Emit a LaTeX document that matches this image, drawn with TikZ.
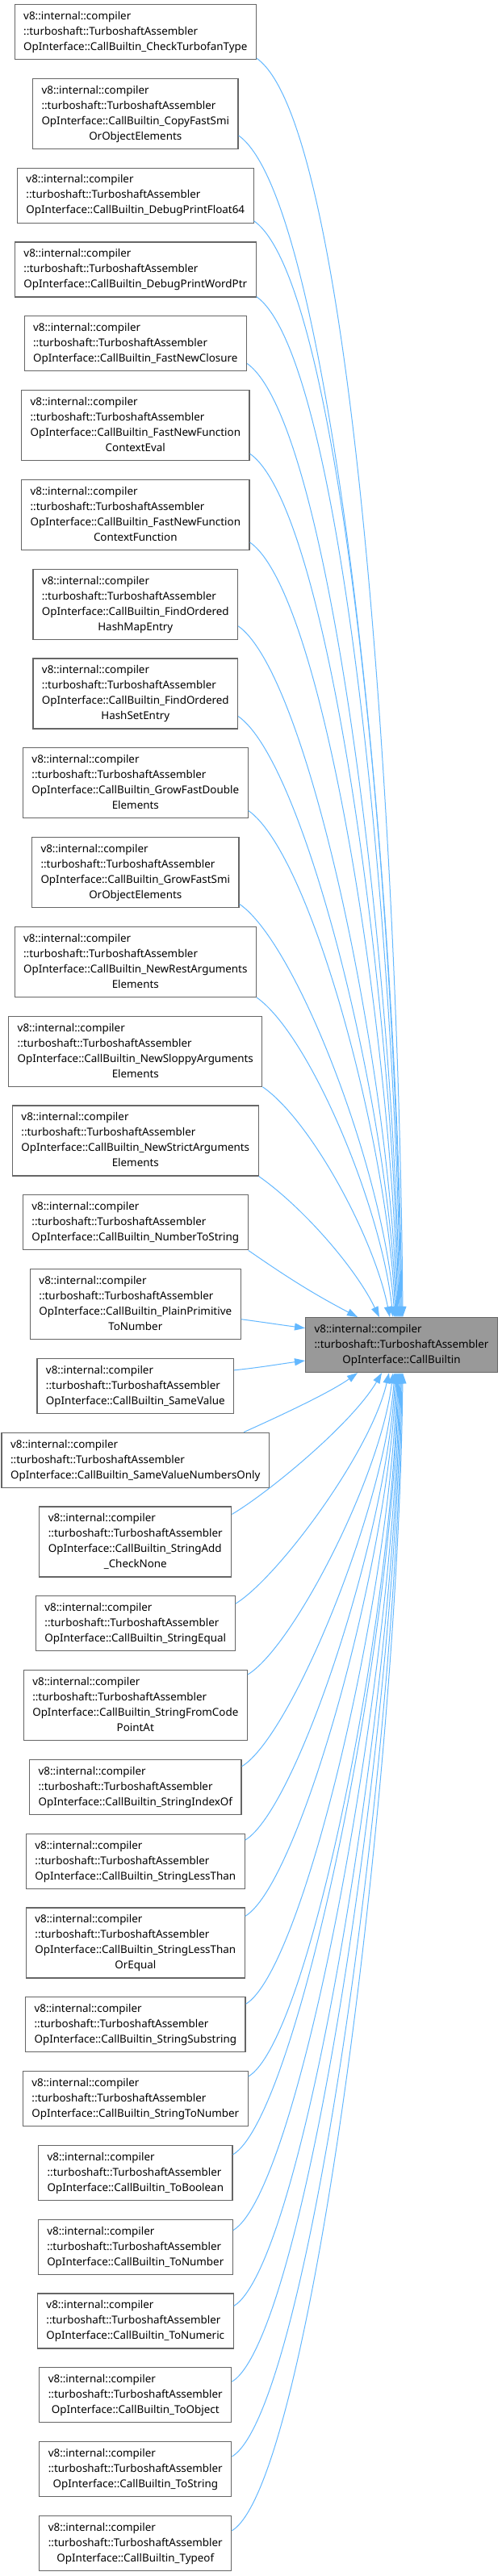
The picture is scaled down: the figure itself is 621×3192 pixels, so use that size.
\documentclass[tikz,border=0pt]{standalone}
\usepackage{fontspec}
\setmainfont{Noto Sans}
\usetikzlibrary{arrows.meta,calc}
\definecolor{edgeblue}{HTML}{63B8FF}
\definecolor{boxline}{HTML}{666666}
\definecolor{boxfill}{HTML}{999999}
\newcommand\lblthree[1]{\begin{tabular}{@{}l@{}}v8::internal::compiler\\::turboshaft::TurboshaftAssembler\\\multicolumn{1}{@{}c@{}}{#1}\end{tabular}}
\newcommand\lblfour[2]{\begin{tabular}{@{}l@{}}v8::internal::compiler\\::turboshaft::TurboshaftAssembler\\#1\\\multicolumn{1}{@{}c@{}}{#2}\end{tabular}}
\tikzset{
  srcbox/.style={draw=boxline, line width=1.2pt, fill=white, inner xsep=11pt, inner ysep=0pt,
    anchor=north, font=\fontsize{13.4}{19}\selectfont, text=black},
  bthree/.style={srcbox, minimum height=68pt},
  bfour/.style={srcbox, minimum height=87pt},
  tgt/.style={srcbox, fill=boxfill, anchor=north west, minimum height=68pt},
  dep/.style={draw=edgeblue, line width=1pt, -{Triangle[length=13pt,width=9pt]}}
}
\begin{document}
\begin{tikzpicture}[x=1pt,y=-1pt]
\useasboundingbox (0,0) rectangle (621,3192);
\fill[white] (0,0) rectangle (621,3192);
% target
\node[tgt] (t) at (378,1632) {\lblthree{OpInterface::CallBuiltin}};
% sources
\node[bthree] (n1) at (167.8,5) {\lblthree{OpInterface::CallBuiltin\_CheckTurbofanType}};
\node[bfour] (n2) at (167.8,96.8) {\lblfour{OpInterface::CallBuiltin\_CopyFastSmi}{OrObjectElements}};
\node[bthree] (n3) at (167.8,207.6) {\lblthree{OpInterface::CallBuiltin\_DebugPrintFloat64}};
\node[bthree] (n4) at (167.8,299.4) {\lblthree{OpInterface::CallBuiltin\_DebugPrintWordPtr}};
\node[bthree] (n5) at (167.8,391.2) {\lblthree{OpInterface::CallBuiltin\_FastNewClosure}};
\node[bfour] (n6) at (167.8,483) {\lblfour{OpInterface::CallBuiltin\_FastNewFunction}{ContextEval}};
\node[bfour] (n7) at (167.8,593.8) {\lblfour{OpInterface::CallBuiltin\_FastNewFunction}{ContextFunction}};
\node[bfour] (n8) at (167.8,704.6) {\lblfour{OpInterface::CallBuiltin\_FindOrdered}{HashMapEntry}};
\node[bfour] (n9) at (167.8,815.4) {\lblfour{OpInterface::CallBuiltin\_FindOrdered}{HashSetEntry}};
\node[bfour] (n10) at (167.8,926.2) {\lblfour{OpInterface::CallBuiltin\_GrowFastDouble}{Elements}};
\node[bfour] (n11) at (167.8,1037) {\lblfour{OpInterface::CallBuiltin\_GrowFastSmi}{OrObjectElements}};
\node[bfour] (n12) at (167.8,1147.8) {\lblfour{OpInterface::CallBuiltin\_NewRestArguments}{Elements}};
\node[bfour] (n13) at (167.8,1258.6) {\lblfour{OpInterface::CallBuiltin\_NewSloppyArguments}{Elements}};
\node[bfour] (n14) at (167.8,1369.4) {\lblfour{OpInterface::CallBuiltin\_NewStrictArguments}{Elements}};
\node[bthree] (n15) at (167.8,1480.2) {\lblthree{OpInterface::CallBuiltin\_NumberToString}};
\node[bfour] (n16) at (167.8,1572) {\lblfour{OpInterface::CallBuiltin\_PlainPrimitive}{ToNumber}};
\node[bthree] (n17) at (167.8,1682.8) {\lblthree{OpInterface::CallBuiltin\_SameValue}};
\node[bthree] (n18) at (167.8,1774.6) {\lblthree{OpInterface::CallBuiltin\_SameValueNumbersOnly}};
\node[bfour] (n19) at (167.8,1866.4) {\lblfour{OpInterface::CallBuiltin\_StringAdd}{\_CheckNone}};
\node[bthree] (n20) at (167.8,1977.2) {\lblthree{OpInterface::CallBuiltin\_StringEqual}};
\node[bfour] (n21) at (167.8,2069) {\lblfour{OpInterface::CallBuiltin\_StringFromCode}{PointAt}};
\node[bthree] (n22) at (167.8,2179.8) {\lblthree{OpInterface::CallBuiltin\_StringIndexOf}};
\node[bthree] (n23) at (167.8,2271.6) {\lblthree{OpInterface::CallBuiltin\_StringLessThan}};
\node[bfour] (n24) at (167.8,2363.4) {\lblfour{OpInterface::CallBuiltin\_StringLessThan}{OrEqual}};
\node[bthree] (n25) at (167.8,2474.2) {\lblthree{OpInterface::CallBuiltin\_StringSubstring}};
\node[bthree] (n26) at (167.8,2566) {\lblthree{OpInterface::CallBuiltin\_StringToNumber}};
\node[bthree] (n27) at (167.8,2657.8) {\lblthree{OpInterface::CallBuiltin\_ToBoolean}};
\node[bthree] (n28) at (167.8,2749.6) {\lblthree{OpInterface::CallBuiltin\_ToNumber}};
\node[bthree] (n29) at (167.8,2841.4) {\lblthree{OpInterface::CallBuiltin\_ToNumeric}};
\node[bthree] (n30) at (167.8,2933.2) {\lblthree{OpInterface::CallBuiltin\_ToObject}};
\node[bthree] (n31) at (167.8,3025) {\lblthree{OpInterface::CallBuiltin\_ToString}};
\node[bthree] (n32) at (167.8,3116.8) {\lblthree{OpInterface::CallBuiltin\_Typeof}};
% edges from above
\draw[dep] ($(n1.south east)+(0,-2)$) .. controls +(123,86) and +(-4,-546) .. ($(t.north west)+(121,0)$);
\draw[dep] ($(n2.south east)+(0,-17)$) .. controls +(118,83) and +(-5,-513) .. ($(t.north west)+(120,0)$);
\draw[dep] ($(n3.south east)+(0,-3)$) .. controls +(113,79) and +(-5,-476) .. ($(t.north west)+(119,0)$);
\draw[dep] ($(n4.south east)+(0,-1)$) .. controls +(108,76) and +(-5,-443) .. ($(t.north west)+(118,0)$);
\draw[dep] ($(n5.south east)+(0,-10)$) .. controls +(104,73) and +(-6,-414) .. ($(t.north west)+(117,0)$);
\draw[dep] ($(n6.south east)+(0,-9)$) .. controls +(99,69) and +(-6,-375) .. ($(t.north west)+(116,0)$);
\draw[dep] ($(n7.south east)+(0,-10)$) .. controls +(93,65) and +(-7,-336) .. ($(t.north west)+(115,0)$);
\draw[dep] ($(n8.south east)+(0,-17)$) .. controls +(88,62) and +(-8,-300) .. ($(t.north west)+(114,0)$);
\draw[dep] ($(n9.south east)+(0,-16)$) .. controls +(82,57) and +(-9,-261) .. ($(t.north west)+(113,0)$);
\draw[dep] ($(n10.south east)+(0,-10)$) .. controls +(77,54) and +(-10,-220) .. ($(t.north west)+(112,0)$);
\draw[dep] ($(n11.south east)+(0,-5)$) .. controls +(71,49) and +(-13,-180) .. ($(t.north west)+(111,0)$);
\draw[dep] ($(n12.south east)+(0,0)$) .. controls +(65,46) and +(-15,-139) .. ($(t.north west)+(109,0)$);
\draw[dep] ($(n13.south east)+(0,0)$) .. controls +(59,41) and +(-20,-100) .. ($(t.north west)+(105,0)$);
\draw[dep] ($(n14.south east)+(0,0)$) .. controls +(54,38) and +(-30,-62) .. ($(t.north west)+(92,0)$);
\draw[dep] ($(n15.south east)+(0,0)$) .. controls +(49,34) and +(-55,-29) .. ($(t.north west)+(65,0)$);
% edges from the side
\draw[dep] ($(n16.north east)+(0,62.7)$) .. controls +(30,4) and +(-30,-4) .. ($(t.north west)+(0,13.7)$);
\draw[dep] ($(n17.north east)+(0,15)$) .. controls +(30,-3) and +(-30,4) .. ($(t.north west)+(0,54)$);
% edges from below
\draw[dep] ($(n18.north east)+(-32,0)$) .. controls +(40,-18) and +(-35,25) .. ($(t.south west)+(65,0)$);
\draw[dep] ($(n19.north east)+(0,10)$) .. controls +(47,-28) and +(-36,62) .. ($(t.south west)+(95,0)$);
\draw[dep] ($(n20.north east)+(0,10)$) .. controls +(51,-31) and +(-23,100) .. ($(t.south west)+(104,0)$);
\draw[dep] ($(n21.north east)+(0,6)$) .. controls +(55,-33) and +(-16,131) .. ($(t.south west)+(109,0)$);
\draw[dep] ($(n22.north east)+(0,9)$) .. controls +(60,-36) and +(-13,171) .. ($(t.south west)+(111,0)$);
\draw[dep] ($(n23.north east)+(0,8.5)$) .. controls +(63,-38) and +(-11,203) .. ($(t.south west)+(112,0)$);
\draw[dep] ($(n24.north east)+(0,11)$) .. controls +(67,-40) and +(-10,236) .. ($(t.south west)+(113,0)$);
\draw[dep] ($(n25.north east)+(0,9)$) .. controls +(71,-43) and +(-8,274) .. ($(t.south west)+(114,0)$);
\draw[dep] ($(n26.north east)+(0,7)$) .. controls +(75,-45) and +(-7,306) .. ($(t.south west)+(115,0)$);
\draw[dep] ($(n27.north east)+(0,12)$) .. controls +(79,-47) and +(-7,340) .. ($(t.south west)+(116,0)$);
\draw[dep] ($(n28.north east)+(0,14)$) .. controls +(83,-50) and +(-6,372) .. ($(t.south west)+(117,0)$);
\draw[dep] ($(n29.north east)+(0,16)$) .. controls +(86,-52) and +(-6,405) .. ($(t.south west)+(118,0)$);
\draw[dep] ($(n30.north east)+(0,18)$) .. controls +(90,-54) and +(-6,438) .. ($(t.south west)+(119,0)$);
\draw[dep] ($(n31.north east)+(0,19)$) .. controls +(94,-56) and +(-5,470) .. ($(t.south west)+(120,0)$);
\draw[dep] ($(n32.north east)+(0,19)$) .. controls +(97,-58) and +(-5,503) .. ($(t.south west)+(121,0)$);
\end{tikzpicture}
\end{document}
